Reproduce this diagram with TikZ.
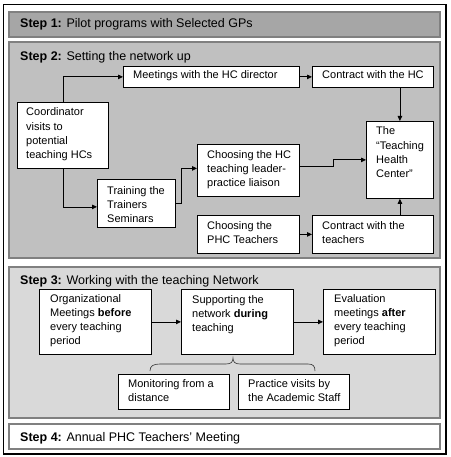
\documentclass[tikz,border=0pt]{standalone}
\usepackage{fontspec}
\setmainfont{Liberation Sans}
\usetikzlibrary{arrows.meta}
\definecolor{bandgray}{HTML}{808080}
\definecolor{fillone}{HTML}{A6A6A6}
\definecolor{filltwo}{HTML}{C0C0C0}
\definecolor{fillthree}{HTML}{D9D9D9}
\newcommand\mylines[1]{\vtop{\baselineskip=14.2pt\lineskiplimit=-20pt\halign{##\hfil\cr#1\crcr}}}
\tikzset{
  band/.style={draw=bandgray, line width=1.3pt},
  box/.style={draw=black, line width=0.8pt, fill=white, anchor=north west, inner sep=0pt},
  txt/.style={anchor=base west, inner sep=0pt, font=\fontsize{11pt}{14.2pt}\selectfont},
  ttl/.style={anchor=base west, inner sep=0pt, font=\fontsize{12.5pt}{15pt}\selectfont},
  arr/.style={-{Triangle[length=5pt,width=4.5pt]}, line width=0.8pt},
}
\begin{document}
\begin{tikzpicture}[x=1pt,y=-1pt]
\useasboundingbox (0,0) rectangle (450,457);
\fill[white] (0,0) rectangle (450,457);
\draw[black, line width=1.2pt] (3.5,4.5) rectangle (446,454);
% bands
\draw[band, fill=fillone] (9,12) rectangle (440,37);
\draw[band, fill=filltwo] (9,42) rectangle (440,258);
\draw[band, fill=fillthree] (9,267) rectangle (440,418);
\draw[band, fill=white] (9,424) rectangle (440,449);
% titles
\node[ttl] (t1) at (20,28) {\textbf{Step 1:} Pilot programs with Selected GPs};
\node[ttl] (t2) at (20,61) {\textbf{Step 2:} Setting the network up};
\node[ttl] (t3) at (20,284) {\textbf{Step 3:} Working with the teaching Network};
\node[ttl] (t4) at (20,441) {\textbf{Step 4:} Annual PHC Teachers’ Meeting};
% step 2 boxes
\node[box, minimum width=91pt, minimum height=66pt] (coord) at (17,102) {};
\node[box, minimum width=176pt, minimum height=21pt] (meet) at (123,66) {};
\node[box, minimum width=121pt, minimum height=21pt] (chc) at (312,66) {};
\node[box, minimum width=67pt, minimum height=77pt] (thc) at (366,121) {};
\node[box, minimum width=102pt, minimum height=52pt] (chhc) at (197,144) {};
\node[box, minimum width=78pt, minimum height=48pt] (train) at (97,179) {};
\node[box, minimum width=102pt, minimum height=38pt] (chphc) at (197,215) {};
\node[box, minimum width=121pt, minimum height=38pt] (ctch) at (312,215) {};
\node[txt] (coordt) at (26,116) {\mylines{Coordinator\cr visits to\cr potential\cr teaching HCs}};
\node[txt] (meett) at (133,79) {Meetings with the HC director};
\node[txt] (chct) at (322,79) {Contract with the HC};
\node[txt] (thct) at (376,135) {\mylines{The\cr “Teaching\cr Health\cr Center”}};
\node[txt] (chhct) at (207,158) {\mylines{Choosing the HC\cr teaching leader-\cr practice liaison}};
\node[txt] (traint) at (107,194) {\mylines{Training the\cr Trainers\cr Seminars}};
\node[txt] (chphct) at (207,229) {\mylines{Choosing the\cr PHC Teachers}};
\node[txt] (ctcht) at (322,229) {\mylines{Contract with the\cr teachers}};
% step 2 connectors
\draw[arr] (coord.north) |- (meet.west);
\draw[arr] (coord.south) |- ([yshift=-3.5pt]train.west);
\draw[arr] (train.east) -- ++(6,0) |- ([yshift=2pt]chhc.west);
\draw[arr] (meet.east) -- (chc.west);
\draw[arr] (thc.north |- chc.south) -- (thc.north);
\draw[arr] ([yshift=4pt]chhc.east) -- ++(34,0) |- (thc.west);
\draw[arr] (chphc.east) -- (ctch.west);
\draw[arr] (thc.south |- ctch.north) -- (thc.south);
% step 3 boxes
\node[box, minimum width=112pt, minimum height=65pt] (org) at (39,289) {};
\node[box, minimum width=112pt, minimum height=65pt] (sup) at (181,289) {};
\node[box, minimum width=112pt, minimum height=65pt] (eval) at (323,289) {};
\node[box, minimum width=111pt, minimum height=35pt] (mon) at (118,374) {};
\node[box, minimum width=111pt, minimum height=35pt] (prac) at (238,374) {};
\node[txt] (orgt) at (50,302) {\mylines{Organizational\cr Meetings \textbf{before}\cr every teaching\cr period}};
\node[txt] (supt) at (192,303) {\mylines{Supporting the\cr network \textbf{during}\cr teaching}};
\node[txt] (evalt) at (334,302) {\mylines{Evaluation\cr meetings \textbf{after}\cr every teaching\cr period}};
\node[txt] (mont) at (128,387) {\mylines{Monitoring from a\cr distance}};
\node[txt] (pract) at (248,387) {\mylines{Practice visits by\cr the Academic Staff}};
\draw[arr] (org.east) -- (sup.west);
\draw[arr] (sup.east) -- (eval.west);
% brace
\draw[line width=0.6pt, black!80] (150,371) .. controls (150,366) and (153,364) .. (160,364) -- (226,364) .. controls (231,364) and (233,362) .. (233,358) .. controls (233,362) and (235,364) .. (240,364) -- (308,364) .. controls (313,364) and (315,366) .. (315,371);
\end{tikzpicture}
\end{document}
